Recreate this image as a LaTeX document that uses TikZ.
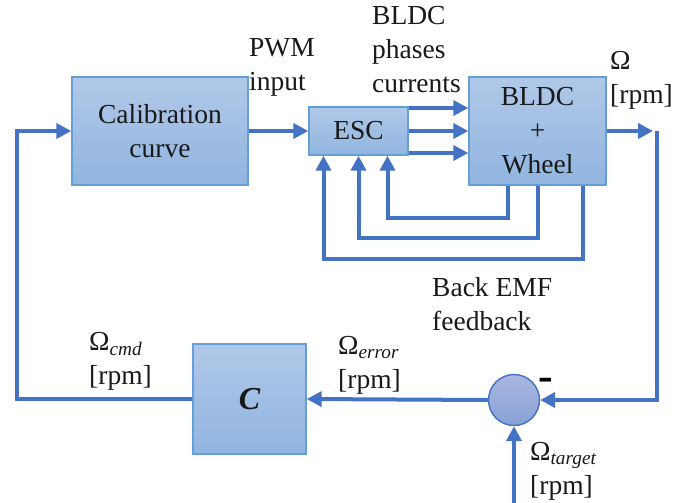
\documentclass[tikz,border=0pt]{standalone}
\usepackage{fontspec}
\setmainfont{Liberation Serif}
\usepackage{tikz}
\usetikzlibrary{arrows.meta,positioning,calc}
\definecolor{clrLine}{RGB}{68,114,196}
\definecolor{clrEdge}{RGB}{100,160,215}
\definecolor{boxTop}{RGB}{176,200,232}
\definecolor{boxBot}{RGB}{145,181,224}
\definecolor{sumTop}{RGB}{170,184,224}
\definecolor{sumBot}{RGB}{136,160,214}
\definecolor{clrTxt}{RGB}{25,25,25}
\tikzset{
  block/.style={rectangle,draw=clrEdge,line width=1.4pt,top color=boxTop,
    bottom color=boxBot,align=center,text=clrTxt,inner sep=0pt},
  sumnode/.style={circle,draw=clrLine,line width=1.4pt,top color=sumTop,
    bottom color=sumBot,minimum size=51pt,inner sep=0pt},
  arrow/.style={-{Triangle[length=15pt,width=15pt]},line width=4pt,color=clrLine},
  label/.style={anchor=north west,align=left,inner sep=0pt,text=clrTxt}
}

\begin{document}
\begin{tikzpicture}[
    x=1pt,y=-1pt,
    every node/.style={font=\fontsize{27.5}{34}\selectfont}
]
\useasboundingbox (0,0) rectangle (683,503);

% Forward path: calibration, ESC, motor and wheel.
\node[block,minimum width=176pt,minimum height=108pt] (calib) at (160,131)
  {Calibration\\curve};
\node[block,minimum width=99pt,minimum height=48pt] (esc) at (358.5,131) {ESC};
\node[block,minimum width=137pt,minimum height=108pt] (bldc) at (537.5,131)
  {BLDC\\+\\Wheel};

% Controller and summing junction.
\node[block,minimum width=113pt,minimum height=110pt] (ctrl) at (249.5,399)
  {\fontsize{32}{32}\selectfont\bfseries\itshape C};
\node[sumnode] (sum) at (514,400) {};
\node[font=\fontsize{44}{44}\selectfont\bfseries,inner sep=0pt] (minus) at (546,384) {-};

\coordinate (lcorner) at (17,399);
\coordinate (outc) at (657,131);
\coordinate (tgt) at (514,503);
\coordinate (ph1) at ([yshift=23pt]esc.east);
\coordinate (ph3) at ([yshift=-22pt]esc.east);

\draw[arrow] (calib.east) -- (esc.west);
\draw[arrow] (ph1) -- (ph1 -| bldc.west);
\draw[arrow] (esc.east) -- (bldc.west);
\draw[arrow] (ph3) -- (ph3 -| bldc.west);
\draw[arrow] (bldc.east) -- ([xshift=-4pt]outc);
\draw[arrow] (outc) |- (sum.east);
\draw[arrow] (sum.west) -- (ctrl.east);
\draw[arrow] (tgt) -- (sum.south);
\draw[arrow] (ctrl.west) -- (lcorner) |- (calib.west);

% Back EMF feedback lines into the ESC.
\draw[arrow] ([xshift=-30pt]bldc.south) -- ++(0,32) -| ([xshift=29pt]esc.south);
\draw[arrow] (bldc.south) -- ++(0,52) -| (esc.south);
\draw[arrow] ([xshift=45pt]bldc.south) -- ++(0,73) -| ([xshift=-35pt]esc.south);

% Signal labels.
\node[label] (pwm) at (249,38) {PWM\\input};
\node[label] (phases) at (372,6) {BLDC\\phases\\currents};
\node[label] (omega) at (610,51) {Ω\\{}[rpm]};
\node[label] (emf) at (432,277) {Back EMF\\feedback};
\node[label] (wcmd) at (89,332) {Ω\textsubscript{\itshape cmd}\\{}[rpm]};
\node[label] (werr) at (338,336) {Ω\textsubscript{\itshape error}\\{}[rpm]};
\node[label] (wtgt) at (530,442) {Ω\textsubscript{\itshape target}\\{}[rpm]};
\end{tikzpicture}
\end{document}
